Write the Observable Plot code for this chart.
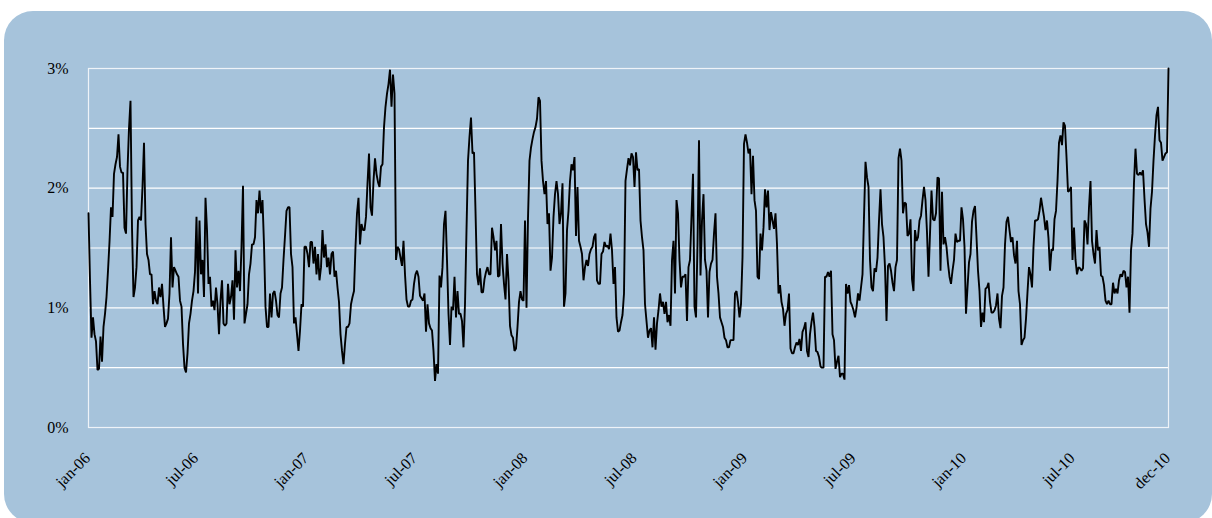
<!DOCTYPE html>
<html>
<head>
<meta charset="utf-8">
<script src="https://cdn.jsdelivr.net/npm/d3@7"></script>
<script src="https://cdn.jsdelivr.net/npm/@observablehq/plot@0.6"></script>
<style>
  html, body { margin: 0; padding: 0; background: #ffffff; }
  #wrap { position: relative; width: 1212px; height: 518px; overflow: hidden; }
  #bg { position: absolute; left: 4px; top: 11px; width: 1208px; height: 512px; border-radius: 29px; background: #a6c3db; }
  #chart { position: absolute; left: 0; top: 0; }
</style>
</head>
<body>
<div id="wrap"><div id="bg"></div><div id="chart"></div></div>
<script>
// Series start and spacing (one reading every 60 hours = 2.5 days)
const startDate = "2006-01-02";
const stepHours = 60;
// Rate readings, in percent
const rates = [
  // 2006 H1
  1.79,1.23,0.75,0.92,0.78,0.72,0.48,0.49,0.76,0.55,0.84,0.95,1.09,1.31,1.55,1.84,1.76,2.12,2.20,2.26,
  2.45,2.18,2.13,2.13,1.67,1.62,2.15,2.50,2.73,1.67,1.09,1.17,1.34,1.73,1.76,1.73,2.01,2.38,1.70,1.45,
  1.40,1.28,1.28,1.03,1.14,1.06,1.03,1.17,1.09,1.20,1.01,0.84,0.87,0.91,1.12,1.59,1.17,1.34,1.31,1.28,
  1.26,1.06,1.01,0.70,0.50,0.46,0.62,0.87,0.95,1.06,1.14,1.30,
  // 2006 H2
  1.76,1.12,1.73,1.28,1.40,1.09,1.92,1.65,1.20,1.26,1.01,1.06,0.98,1.17,1.03,0.78,1.06,1.23,0.87,0.85,
  0.87,1.20,1.03,1.09,1.23,0.90,1.48,1.17,1.31,1.14,1.51,2.02,0.87,0.95,1.03,1.28,1.37,1.53,1.53,1.59,
  1.90,1.79,1.98,1.79,1.90,1.53,1.01,0.84,0.84,1.12,0.92,1.12,1.14,1.06,0.94,0.92,1.12,1.17,1.40,1.60,
  1.81,1.84,1.84,1.45,1.34,0.87,0.92,0.78,0.64,0.81,1.03,1.01,1.51,
  // 2007 H1
  1.51,1.45,1.34,1.55,1.55,1.37,1.51,1.28,1.45,1.23,1.34,1.65,1.42,1.53,1.34,1.42,1.28,1.45,1.47,1.26,
  1.31,1.17,1.05,0.78,0.64,0.53,0.70,0.84,0.84,0.87,1.03,1.09,1.14,1.51,1.79,1.92,1.53,1.70,1.65,1.65,
  1.76,2.04,2.29,1.84,1.77,2.06,2.25,2.12,2.05,2.01,2.18,2.20,2.51,2.68,2.79,2.87,2.99,2.68,2.95,2.79,
  1.40,1.51,1.49,1.42,1.35,1.56,1.28,1.07,1.01,1.01,1.06,1.07,1.20,
  // 2007 H2
  1.28,1.31,1.26,1.10,1.08,1.06,1.12,0.80,1.03,0.87,0.83,0.81,0.64,0.39,0.53,0.45,1.27,1.17,1.34,1.70,
  1.81,1.40,0.95,0.69,1.01,0.98,1.26,0.92,1.14,0.95,0.95,0.89,0.67,1.03,1.65,2.23,2.43,2.59,2.29,2.30,
  1.81,1.28,1.19,1.33,1.13,1.13,1.24,1.30,1.34,1.28,1.28,1.67,1.59,1.48,1.56,1.26,1.27,1.70,1.37,1.20,
  1.07,1.45,1.23,0.85,0.77,0.75,0.64,0.66,0.84,1.05,1.14,1.07,1.06,1.73,
  // 2008 H1
  1.00,1.75,2.23,2.34,2.41,2.47,2.51,2.58,2.76,2.73,2.23,2.06,1.95,2.06,1.70,1.79,1.31,1.42,1.76,1.95,
  2.06,1.95,1.70,1.79,2.04,1.01,1.12,1.65,1.81,2.06,2.20,2.15,2.26,1.60,2.01,1.56,1.51,1.45,1.23,1.34,
  1.40,1.35,1.45,1.49,1.51,1.59,1.62,1.23,1.20,1.20,1.45,1.47,1.55,1.51,1.52,1.49,1.62,1.48,1.20,1.34,
  0.92,0.80,0.81,0.88,0.94,1.12,2.06,2.16,2.25,2.19,2.29,2.26,2.01,
  // 2008 H2
  2.30,2.15,2.16,1.73,1.59,1.48,1.03,0.89,0.75,0.81,0.83,0.67,0.92,0.65,0.87,0.98,1.12,1.01,1.05,0.95,
  1.05,0.88,0.94,0.85,1.40,1.56,1.12,1.90,1.79,1.40,1.17,1.26,1.26,1.28,0.89,1.34,1.40,1.76,2.12,1.01,
  0.92,1.53,2.40,1.27,1.73,1.95,1.40,1.31,0.92,1.30,1.37,1.40,1.62,1.79,1.26,1.12,0.92,0.88,0.84,0.75,
  0.73,0.67,0.67,0.73,0.73,0.73,1.12,1.14,1.05,0.92,1.03,1.42,2.37,
  // 2009 H1
  2.45,2.38,2.29,2.33,1.95,2.27,1.90,1.81,1.26,1.24,1.62,1.48,1.67,1.99,1.84,1.98,1.65,1.80,1.73,1.66,
  1.79,1.53,1.12,1.19,1.05,0.99,0.85,0.95,0.98,1.12,0.66,0.62,0.62,0.67,0.71,0.69,0.74,0.64,0.80,0.83,
  0.88,0.64,0.59,0.78,0.88,0.96,0.84,0.64,0.63,0.59,0.51,0.50,0.50,1.26,1.26,1.30,1.26,1.31,0.78,0.73,
  0.49,0.55,0.60,0.42,0.45,0.45,0.40,1.20,1.12,1.19,1.05,1.02,0.98,0.92,
  // 2009 H2
  1.00,1.12,1.06,1.17,1.28,1.76,2.22,2.09,2.01,1.40,1.17,1.14,1.33,1.30,1.42,1.73,1.99,1.70,1.59,1.34,
  0.89,1.35,1.37,1.31,1.21,1.14,1.34,1.40,2.25,2.33,2.23,1.79,1.88,1.87,1.60,1.62,1.74,1.24,1.14,1.65,
  1.56,1.59,1.73,1.77,1.90,2.01,1.90,1.63,1.26,1.62,1.98,1.74,1.73,1.79,2.09,2.08,1.31,1.97,1.53,1.59,
  1.51,1.37,1.26,1.20,1.31,1.40,1.62,1.55,1.56,1.56,1.84,1.74,1.51,
  // 2010 H1
  0.95,1.17,1.38,1.45,1.72,1.81,1.85,1.59,1.31,1.14,0.84,0.96,0.88,1.16,1.17,1.21,1.05,0.96,0.96,0.98,
  1.02,1.12,0.91,0.83,1.10,1.17,1.53,1.72,1.76,1.65,1.55,1.59,1.44,1.37,1.56,1.14,1.03,0.69,0.73,0.75,
  0.91,1.13,1.34,1.28,1.17,1.51,1.73,1.73,1.74,1.81,1.92,1.84,1.76,1.65,1.73,1.58,1.31,1.49,1.48,1.74,
  1.81,2.06,2.38,2.44,2.36,2.55,2.52,2.26,1.97,1.98,2.01,1.40,1.67,
  // 2010 H2
  1.40,1.28,1.34,1.33,1.31,1.33,1.73,1.70,1.53,1.84,2.06,1.56,1.45,1.37,1.65,1.48,1.51,1.27,1.26,1.19,
  1.06,1.03,1.06,1.03,1.03,1.21,1.12,1.16,1.12,1.23,1.28,1.26,1.31,1.30,1.17,1.26,0.96,1.48,1.62,2.05,
  2.33,2.12,2.11,2.13,2.11,2.15,1.91,1.70,1.63,1.51,1.83,1.97,2.23,2.44,2.61,2.68,2.40,2.38,2.23,2.26,
  2.29,2.30,3.00
];
// Axis ticks
const xTickDates = ["2006-01-02","2006-07-01","2007-01-01","2007-07-01","2008-01-01","2008-07-01",
                    "2009-01-01","2009-07-01","2010-01-01","2010-07-01","2010-12-07"];
const xTickLabels = ["jan-06","jul-06","jan-07","jul-07","jan-08","jul-08",
                     "jan-09","jul-09","jan-10","jul-10","dec-10"];
const yTicks = [0, 1, 2, 3];
const yGrid = [0.5, 1, 1.5, 2, 2.5, 3];

const t0 = new Date(startDate + "T00:00:00Z");
const data = rates.map((v, i) => ({date: d3.utcHour.offset(t0, i * stepHours), value: v}));
const tickData = xTickDates.map((d, i) => ({date: new Date(d + "T00:00:00Z"), label: xTickLabels[i]}));

const chart = Plot.plot({
  width: 1212,
  height: 518,
  marginLeft: 88,
  marginRight: 44,
  marginTop: 68,
  marginBottom: 91,
  style: {background: "transparent", fontFamily: "'Liberation Serif', 'Times New Roman', serif", fontSize: "16px", color: "#000"},
  x: {type: "utc", domain: [data[0].date, data[data.length - 1].date], axis: null},
  y: {domain: [0, 3], label: null},
  marks: [
    Plot.gridY(yGrid, {stroke: "#ffffff", strokeOpacity: 1, strokeWidth: 1.2}),
    Plot.frame({stroke: "#eef3f8", strokeWidth: 1.2}),
    Plot.axisY(yTicks, {tickSize: 0, tickPadding: 20, tickFormat: d => d + "%", fontSize: 16, fill: "#000", label: null}),
    Plot.text(tickData, {x: "date", text: "label", frameAnchor: "bottom", dy: 28, dx: -1, rotate: -45,
      textAnchor: "end", lineAnchor: "middle", fontSize: 16, fill: "#000"}),
    Plot.lineY(data, {x: "date", y: "value", stroke: "#000", strokeWidth: 1.9, strokeLinejoin: "miter"})
  ]
});
document.getElementById("chart").appendChild(chart);
</script>
</body>
</html>
